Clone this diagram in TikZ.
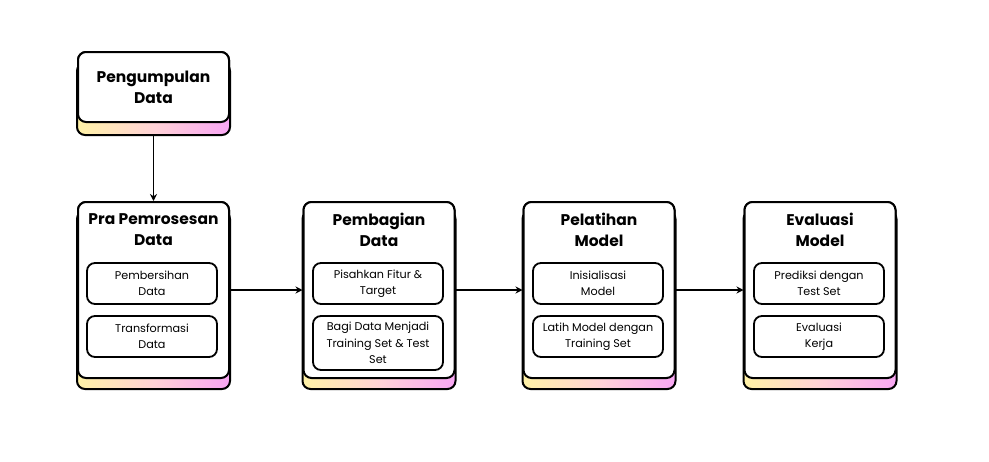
\documentclass[tikz,border=0pt]{standalone}
\usepackage{fontspec}
\setmainfont{Poppins}
\usetikzlibrary{arrows.meta}
\definecolor{shy}{HTML}{FFF2A6}
\definecolor{shm}{HTML}{FFD2D6}
\definecolor{shp}{HTML}{F9A6F4}
\tikzset{
  card/.style={draw=black, line width=2pt, fill=white, rounded corners=8pt, inner sep=0pt},
  sub/.style={draw=black, line width=1.8pt, fill=white, rounded corners=8pt, minimum width=130pt, align=center, font=\fontsize{11.2}{16.5}\selectfont, inner sep=0pt},
  ttl/.style={align=center, font=\fontsize{15.5}{21}\selectfont\bfseries, inner sep=0pt},
  conn/.style={line width=1.6pt, -{Stealth[length=7pt,width=7pt]}},
}
\newcommand\cardshade[2]{%
  \shadedraw[left color=shy, right color=shp, middle color=shm, draw=black, line width=2pt, rounded corners=8pt]
    ([yshift=-#2pt]#1.south west) rectangle ([yshift=-#2pt]#1.north east);}
\begin{document}
\begin{tikzpicture}[x=1pt,y=-1pt]
\useasboundingbox (0,0) rectangle (989,461);
% cards
\node[card, minimum width=151pt, minimum height=70pt] (pd) at (153.5,87) {};
\node[card, minimum width=151pt, minimum height=176pt] (pra) at (153.5,290) {};
\node[card, minimum width=151pt, minimum height=176pt] (pem) at (379,290) {};
\node[card, minimum width=151pt, minimum height=176pt] (pel) at (599,290) {};
\node[card, minimum width=151pt, minimum height=176pt] (eva) at (820,290) {};
% gradient shadows
\cardshade{pd}{12}
\cardshade{pra}{10}
\cardshade{pem}{10}
\cardshade{pel}{10}
\cardshade{eva}{10}
% redraw cards on top
\node[card, minimum width=151pt, minimum height=70pt] at (pd) {};
\node[card, minimum width=151pt, minimum height=176pt] at (pra) {};
\node[card, minimum width=151pt, minimum height=176pt] at (pem) {};
\node[card, minimum width=151pt, minimum height=176pt] at (pel) {};
\node[card, minimum width=151pt, minimum height=176pt] at (eva) {};
% titles
\node[ttl] (tpd) at (153.5,87.5) {Pengumpulan\\Data};
\node[ttl] (tpra) at (153.5,229.5) {Pra Pemrosesan\\Data};
\node[ttl] (tpem) at (379,229.5) {Pembagian\\Data};
\node[ttl] (tpel) at (599,229.5) {Pelatihan\\Model};
\node[ttl] (teva) at (820,229.5) {Evaluasi\\Model};
% sub boxes
\node[sub, minimum height=41pt] (s11) at (152,283.5) {Pembersihan\\Data};
\node[sub, minimum height=41pt] (s12) at (152,336.5) {Transformasi\\Data};
\node[sub, minimum height=41pt] (s21) at (378,283.5) {Pisahkan Fitur \&\\Target};
\node[sub, minimum height=54pt] (s22) at (378,343) {Bagi Data Menjadi\\Training Set \& Test\\Set};
\node[sub, minimum height=41pt] (s31) at (598,283.5) {Inisialisasi\\Model};
\node[sub, minimum height=41pt] (s32) at (598,336.5) {Latih Model dengan\\Training Set};
\node[sub, minimum height=41pt] (s41) at (819,283.5) {Prediksi dengan\\Test Set};
\node[sub, minimum height=41pt] (s42) at (819,336.5) {Evaluasi\\Kerja};
% connectors
\draw[conn] ([yshift=-12pt]pd.south) -- (pra.north);
\draw[conn] (pra.east) -- (pem.west);
\draw[conn] (pem.east) -- (pel.west);
\draw[conn] (pel.east) -- (eva.west);
\end{tikzpicture}
\end{document}
